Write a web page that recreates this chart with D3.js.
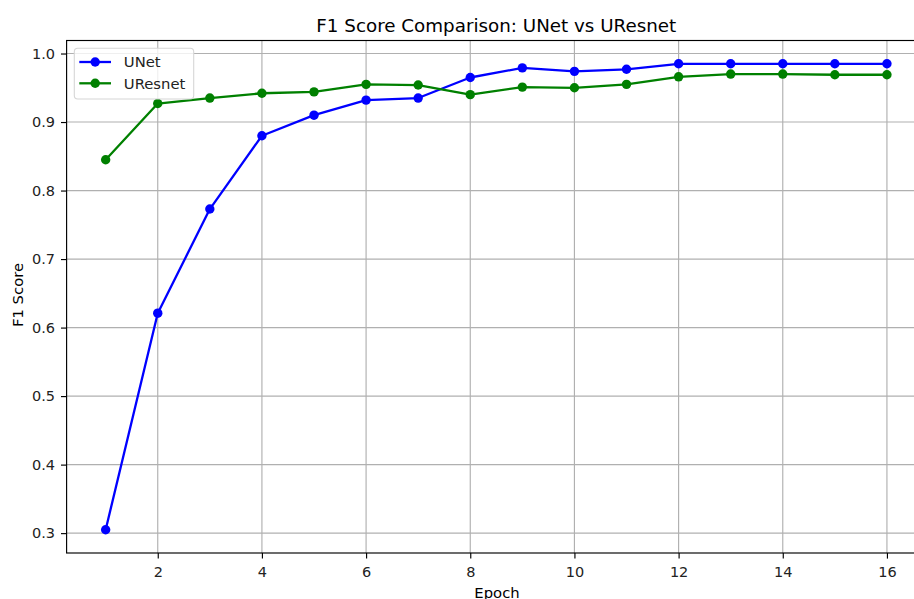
<!DOCTYPE html>
<html>
<head>
<meta charset="utf-8">
<script src="https://cdn.jsdelivr.net/npm/d3@7"></script>
<style>
  html, body { margin: 0; padding: 0; background: #fff; overflow: hidden; }
  svg { display: block; font-family: "DejaVu Sans", sans-serif; }
</style>
</head>
<body>
<svg id="chart" width="914" height="599"></svg>
<script>
const epochs = [1, 2, 3, 4, 5, 6, 7, 8, 9, 10, 11, 12, 13, 14, 15, 16];
const unet = [0.305, 0.621, 0.773, 0.880, 0.910, 0.932, 0.935, 0.965, 0.979, 0.974, 0.977, 0.985, 0.985, 0.985, 0.985, 0.985];
const uresnet = [0.845, 0.927, 0.935, 0.942, 0.944, 0.955, 0.954, 0.940, 0.951, 0.950, 0.955, 0.966, 0.970, 0.970, 0.969, 0.969];
const xTicks = [2, 4, 6, 8, 10, 12, 14, 16];
const yTicks = [0.3, 0.4, 0.5, 0.6, 0.7, 0.8, 0.9, 1.0];
const seriesNames = ["UNet", "UResnet"];
const seriesColors = ["#0000ff", "#008000"];
const title = "F1 Score Comparison: UNet vs UResnet";
const xLabel = "Epoch";
const yLabel = "F1 Score";

const svg = d3.select("#chart");
const pLeft = 66.6, pRight = 926, pTop = 40.5, pBottom = 553;

const x = d3.scaleLinear().domain([0.25, 16.75]).range([pLeft, pRight]);
const yMin = 0.271, yMax = 1.019;
const y = d3.scaleLinear().domain([yMin, yMax]).range([pBottom, pTop]);

// grid
const grid = svg.append("g");
xTicks.forEach(t => {
  grid.append("line").attr("x1", x(t)).attr("x2", x(t)).attr("y1", pTop).attr("y2", pBottom)
    .attr("stroke", "#b0b0b0").attr("stroke-width", 1.15);
});
yTicks.forEach(t => {
  grid.append("line").attr("x1", pLeft).attr("x2", pRight).attr("y1", y(t)).attr("y2", y(t))
    .attr("stroke", "#b0b0b0").attr("stroke-width", 1.15);
});

// axes
const xAxis = d3.axisBottom(x).tickValues(xTicks).tickFormat(d3.format("d")).tickSize(5.6).tickPadding(7.8);
const yAxis = d3.axisLeft(y).tickValues(yTicks).tickFormat(d3.format(".1f")).tickSize(5.6).tickPadding(6.0);

const gx = svg.append("g").attr("transform", `translate(0,${pBottom})`).call(xAxis);
const gy = svg.append("g").attr("transform", `translate(${pLeft},0)`).call(yAxis);
[gx, gy].forEach(g => {
  g.select(".domain").remove();
  g.selectAll(".tick line").attr("stroke", "#000").attr("stroke-width", 1.15);
  g.selectAll(".tick text").attr("fill", "#222").style("font-size", "14.5px").style("font-family", "DejaVu Sans");
});

// spines
svg.append("rect").attr("x", pLeft).attr("y", pTop).attr("width", pRight - pLeft).attr("height", pBottom - pTop)
  .attr("fill", "none").attr("stroke", "#000").attr("stroke-width", 1.15);

// lines
const allSeries = [unet, uresnet];
const line = d3.line().x((d, i) => x(epochs[i])).y(d => y(d));
allSeries.forEach((s, k) => {
  svg.append("path").datum(s).attr("d", line).attr("fill", "none")
    .attr("stroke", seriesColors[k]).attr("stroke-width", 2.3).attr("stroke-linejoin", "round");
  svg.append("g").selectAll("circle").data(s).join("circle")
    .attr("cx", (d, i) => x(epochs[i])).attr("cy", d => y(d)).attr("r", 4.7)
    .attr("fill", seriesColors[k]);
});

// title
svg.append("text").attr("x", (pLeft + pRight) / 2).attr("y", 31.5).attr("text-anchor", "middle")
  .style("font-size", "18.3px").attr("fill", "#000").text(title);

// axis labels
svg.append("text").attr("x", 497).attr("y", 597.5).attr("text-anchor", "middle")
  .style("font-size", "14.8px").attr("fill", "#000").text(xLabel);
svg.append("text").attr("transform", `translate(22.8,295) rotate(-90)`)
  .attr("text-anchor", "middle").style("font-size", "14.8px").attr("fill", "#000").text(yLabel);

// legend
const lg = svg.append("g");
lg.append("rect").attr("x", 74.3).attr("y", 48.3).attr("width", 119.4).attr("height", 50.7)
  .attr("rx", 3.5).attr("fill", "#fff").attr("fill-opacity", 0.8).attr("stroke", "#d6d6d6").attr("stroke-width", 1.1);
seriesNames.forEach((n, k) => {
  const yy = 62 + k * 21.3;
  lg.append("line").attr("x1", 79.3).attr("x2", 111).attr("y1", yy).attr("y2", yy)
    .attr("stroke", seriesColors[k]).attr("stroke-width", 2.3);
  lg.append("circle").attr("cx", 95.2).attr("cy", yy).attr("r", 4.7).attr("fill", seriesColors[k]);
  lg.append("text").attr("x", 123.8).attr("y", yy + 5.2).style("font-size", "14.8px").attr("fill", "#222").text(n);
});
</script>
</body>
</html>
